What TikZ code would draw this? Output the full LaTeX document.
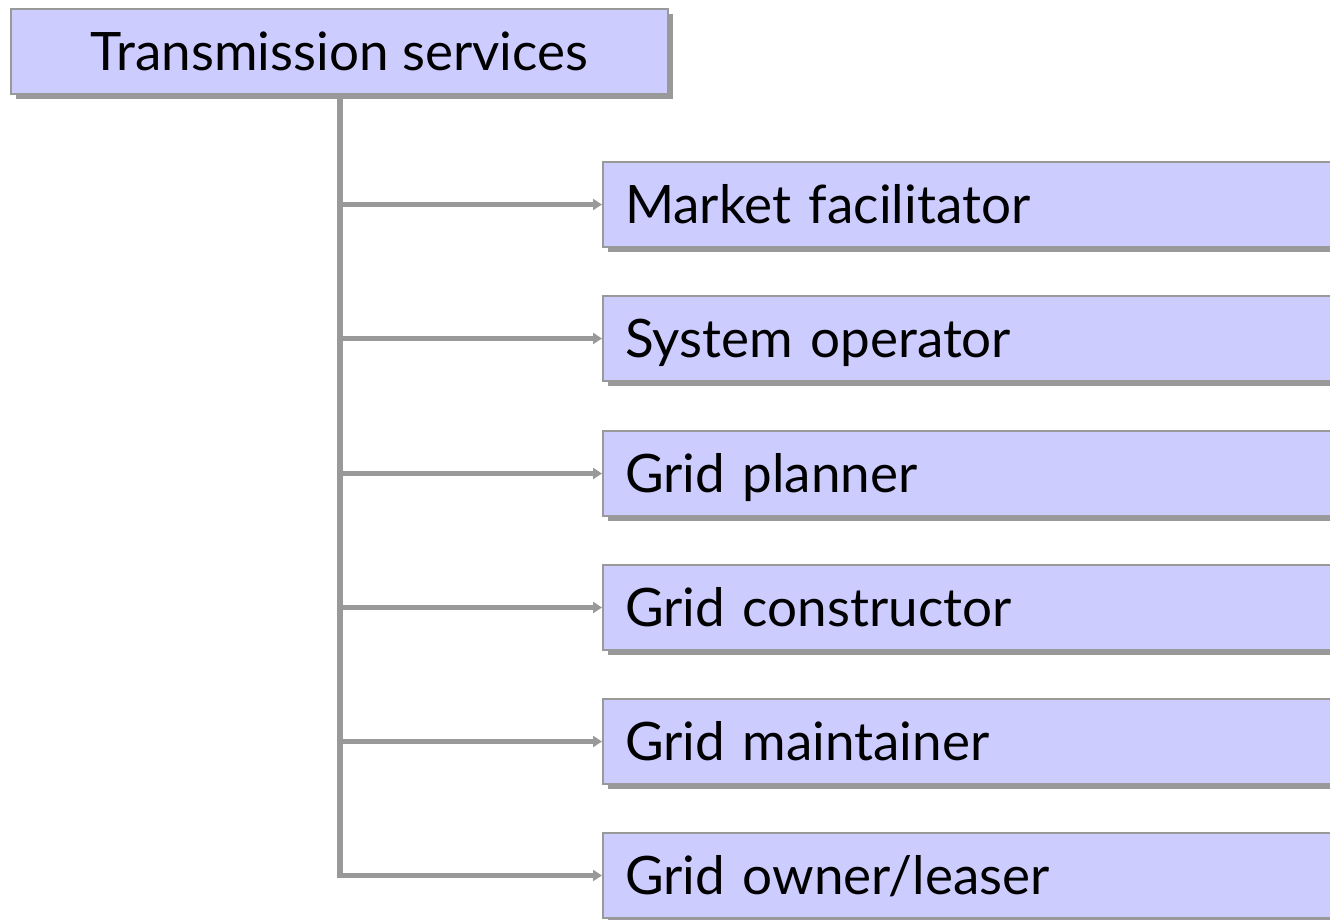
\documentclass[tikz,border=0pt]{standalone}
\usepackage{fontspec}
\setmainfont{Lato}
\usetikzlibrary{arrows.meta,shadows}
\definecolor{boxfill}{HTML}{CCCCFF}
\definecolor{linegray}{HTML}{999999}
\begin{document}
\begin{tikzpicture}[x=1pt,y=-1pt,
  boxbase/.style={draw=linegray, line width=2pt, fill=boxfill, rectangle,
    anchor=north west, minimum height=85pt, inner ysep=0pt,
    text height=38pt, text depth=0pt,
    font=\fontsize{53}{62}\selectfont,
    drop shadow={shadow xshift=5pt, shadow yshift=-5pt, fill=linegray, opacity=1}},
  headbox/.style={boxbase, minimum width=657pt, inner xsep=0pt},
  rolebox/.style={boxbase, text width=710pt, align=left, inner xsep=22pt},
  conn/.style={draw=linegray, line width=5.5pt,
    -{Triangle[length=9pt,width=11pt]}}]
  \useasboundingbox (0,0) rectangle (1330,919);
  \clip (0,0) rectangle (1330,919);

  % head of the hierarchy
  \node[headbox] (top) at (10,8) {Transmission services};

  % service roles
  \node[rolebox] (r1) at (602,161) {Market facilitator};
  \node[rolebox] (r2) at (602,295) {System operator};
  \node[rolebox] (r3) at (602,430) {Grid planner};
  \node[rolebox] (r4) at (602,564) {Grid constructor};
  \node[rolebox] (r5) at (602,698) {Grid maintainer};
  \node[rolebox] (r6) at (602,832) {Grid owner/leaser};

  % trunk and branches
  \coordinate (tk) at (340,0);
  \foreach \r in {r1,r2,r3,r4,r5,r6}
    \draw[conn] (top.south -| tk) |- (\r.west);
\end{tikzpicture}
\end{document}
